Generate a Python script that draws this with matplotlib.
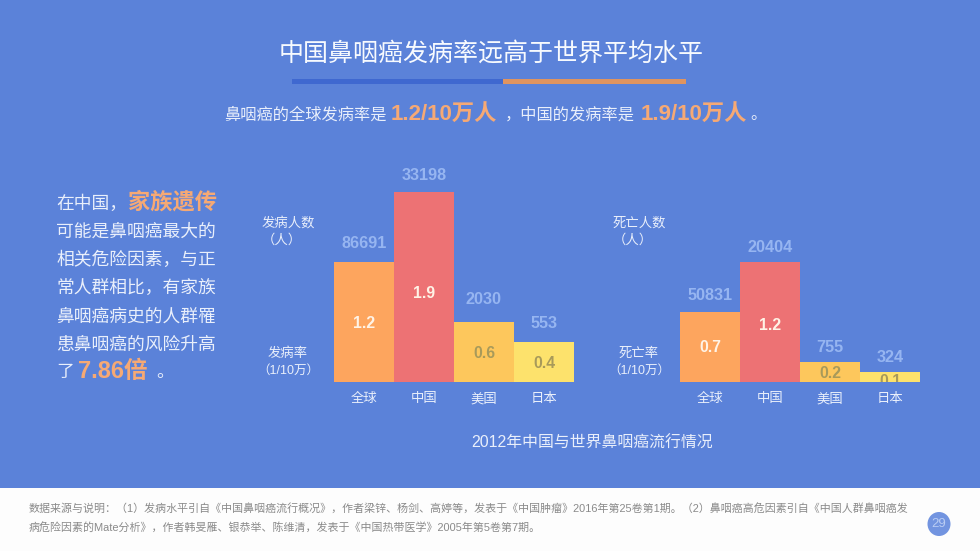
import matplotlib
matplotlib.use("Agg")
from matplotlib import pyplot as plt
from matplotlib.patches import Ellipse, Rectangle

plt.rcParams['font.family'] = ['Liberation Sans', 'Noto Sans CJK SC', 'DejaVu Sans']

BG = '#5b82d9'
TEXT = '#e9effb'
COUNT = '#96b5f1'
HIGHLIGHT = '#f6a974'
BAR_COLORS = ['#fda55e', '#ed7274', '#fdc75c', '#fde26c']
VALUE_COLORS = ['#fff3e6', '#fff3e6', '#a89a5a', '#a89a5a']

countries = ['全球', '中国', '美国', '日本']
incidence_rate = [1.2, 1.9, 0.6, 0.4]
incidence_count = ['86691', '33198', '2030', '553']
death_rate = [0.7, 1.2, 0.2, 0.1]
death_count = ['50831', '20404', '755', '324']

paragraph = ['可能是鼻咽癌最大的', '相关危险因素，与正', '常人群相比，有家族',
             '鼻咽癌病史的人群罹', '患鼻咽癌的风险升高']
footnote = ['数据来源与说明：（1）发病水平引自《中国鼻咽癌流行概况》，作者梁锌、杨剑、高婷等，发表于《中国肿瘤》2016年第25卷第1期。（2）鼻咽癌高危因素引自《中国人群鼻咽癌发',
            '病危险因素的Mate分析》，作者韩旻雁、银恭举、陈维清，发表于《中国热带医学》2005年第5卷第7期。']

W, H = 980, 551
fig = plt.figure(figsize=(W / 100, H / 100), dpi=100, facecolor=BG)

# overlay in pixel coordinates for the slide text
page = fig.add_axes([0, 0, 1, 1], zorder=0)
page.set_xlim(0, W)
page.set_ylim(H, 0)
page.axis('off')


def put(x, y, s, size, color=TEXT, ha='left', weight='normal'):
    # +2 because va='center' sits a little high with the CJK font
    return page.text(x, y + 2, s, fontsize=size, color=color, ha=ha, va='center', fontweight=weight)


def bars(left, rate, count, gaps, nudge):
    ax = fig.add_axes([left / W, (H - 382) / H, 240 / W, 220 / H], zorder=1)
    ax.patch.set_alpha(0)
    ax.set_xlim(-0.5, 3.5)
    ax.set_ylim(0, 2.2)
    rects = ax.bar(range(4), rate, width=1, color=BAR_COLORS)
    for i, r in enumerate(rects):
        ax.annotate(count[i], (i, rate[i]), xytext=(0, gaps[i] * 0.72), textcoords='offset points',
                    ha='center', va='center', fontsize=11.7, fontweight='bold', color=COUNT,
                    annotation_clip=False)
        t = ax.annotate(str(rate[i]), (i, rate[i] / 2), xytext=(0, nudge[i] * 0.72), textcoords='offset points',
                        ha='center', va='center', fontsize=11.3, fontweight='bold', color=VALUE_COLORS[i])
        t.set_clip_path(r)
    ax.set_xticks(range(4), countries, fontsize=9.6, color=TEXT)
    ax.tick_params(axis='x', length=0, pad=8)
    ax.set_yticks([])
    for s in ax.spines.values():
        s.set_visible(False)
    return ax


# header
put(491, 52, '中国鼻咽癌发病率远高于世界平均水平', 18, color='#f7fafe', ha='center')
page.add_patch(Rectangle((292, 78.5), 211, 5, color='#3f68d0', lw=0))
page.add_patch(Rectangle((503, 78.5), 183, 5, color='#e0945f', lw=0))
put(224, 113, '鼻咽癌的全球发病率是', 11.7)
put(391, 113, '1.2/10万人', 16, color=HIGHLIGHT, weight='bold')
put(505, 113, '，中国的发病率是', 11.7)
put(641, 113, '1.9/10万人', 16, color=HIGHLIGHT, weight='bold')
put(750, 113, '。', 11.7)

# left paragraph
put(56, 202, '在中国，', 12.8)
put(128, 201, '家族遗传', 16, color=HIGHLIGHT, weight='bold')
for i, line in enumerate(paragraph):
    put(56, 230 + i * 28.3, line, 12.8)
put(56, 371, '了', 12.8)
put(78, 370, '7.86倍', 17, color=HIGHLIGHT, weight='bold')
put(156, 371, '。', 12.8)

# axis side labels
put(288, 221, '发病人数', 9.6, ha='center')
put(282, 238, '（人）', 9.6, ha='center')
put(288, 352, '发病率', 9.6, ha='center')
put(288, 369, '（1/10万）', 9, ha='center')
put(639, 221, '死亡人数', 9.6, ha='center')
put(633, 238, '（人）', 9.6, ha='center')
put(639, 352, '死亡率', 9.6, ha='center')
put(639, 369, '（1/10万）', 9, ha='center')

bars(334, incidence_rate, incidence_count, [18, 16, 22, 19], [-2, -7, -1, -2])
bars(680, death_rate, death_count, [16, 14, 15, 15], [-1, -4, -2, -4])

put(592, 441, '2012年中国与世界鼻咽癌流行情况', 11.4, ha='center')

# footer
page.add_patch(Rectangle((0, 488), W, H - 488, color='#fdfdfd', lw=0))
put(29, 506, footnote[0], 7.9, color='#8a8a8a')
put(29, 525, footnote[1], 7.9, color='#8a8a8a')
page.add_patch(Ellipse((939, 524), 23, 24, color='#7294e0', lw=0))
put(939, 522, '29', 9.5, color='#b9ccf3', ha='center')

fig.savefig('out.png', dpi=100, facecolor=BG)
